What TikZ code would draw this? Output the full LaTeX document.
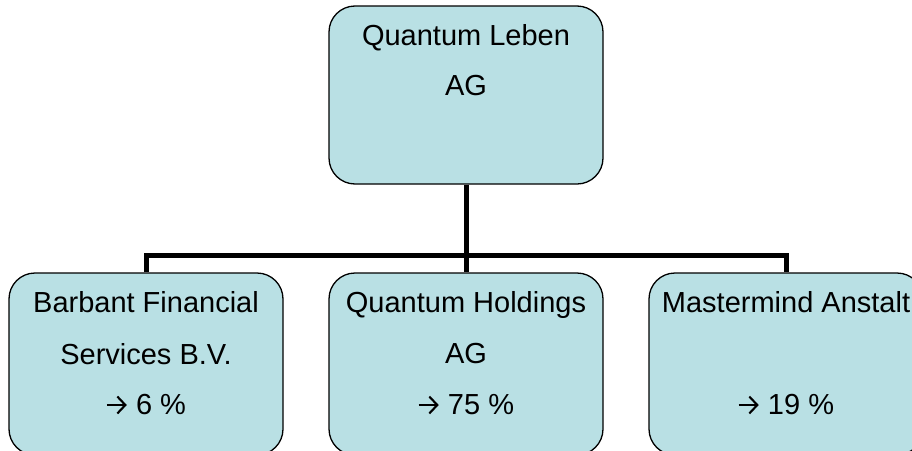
\documentclass[tikz,border=0pt]{standalone}
\usepackage{fontspec}
\usetikzlibrary{arrows.meta}
\setmainfont{Liberation Sans}
\definecolor{boxfill}{RGB}{185,224,228}
\newcommand{\arrspace}{\hspace*{22pt}}
\begin{document}
\begin{tikzpicture}[x=1pt,y=-1pt,
  orgbox/.style={draw=black, line width=1.3pt, fill=boxfill, rounded corners=26pt,
    minimum width=274pt, inner sep=0pt},
  txt/.style={anchor=base, font=\fontsize{29}{32}\selectfont, inner sep=0pt},
  conn/.style={line width=5pt, line join=miter, line cap=butt},
  glyph/.style={line width=2.1pt,-{Straight Barb[length=8pt,width=17pt,line width=2.1pt]}}]
\useasboundingbox (0,0) rectangle (912,450);
\clip (0,0) rectangle (912,450);
\node[orgbox, minimum height=178pt] (top) at (466,95) {};
\node[orgbox, minimum height=182pt] (left) at (146,364) {};
\node[orgbox, minimum height=182pt] (mid) at (466,364) {};
\node[orgbox, minimum height=182pt] (right) at (786,364) {};
\coordinate (bus) at (466,255);
\draw[conn] (top.south) -- (mid.north);
\draw[conn] (left.north) |- (bus) -| (right.north);
\node[txt] (t1) at (466,45) {Quantum Leben};
\node[txt] (t2) at (466,95) {AG};
\node[txt] (l1) at (146,312) {Barbant Financial};
\node[txt] (l2) at (146,364) {Services B.V.};
\node[txt] (l3) at (146,414) {\arrspace\ 6 \%};
\node[txt] (m1) at (466,312) {Quantum Holdings};
\node[txt] (m2) at (466,363) {AG};
\node[txt] (m3) at (466,414) {\arrspace\ 75 \%};
\node[txt] (r1) at (786,312) {Mastermind Anstalt};
\node[txt] (r3) at (786,414) {\arrspace\ 19 \%};
\foreach \n in {l3,m3,r3}
  \draw[glyph] ([shift={(1,-9)}]\n.base west) -- ++(20,0);
\end{tikzpicture}
\end{document}
